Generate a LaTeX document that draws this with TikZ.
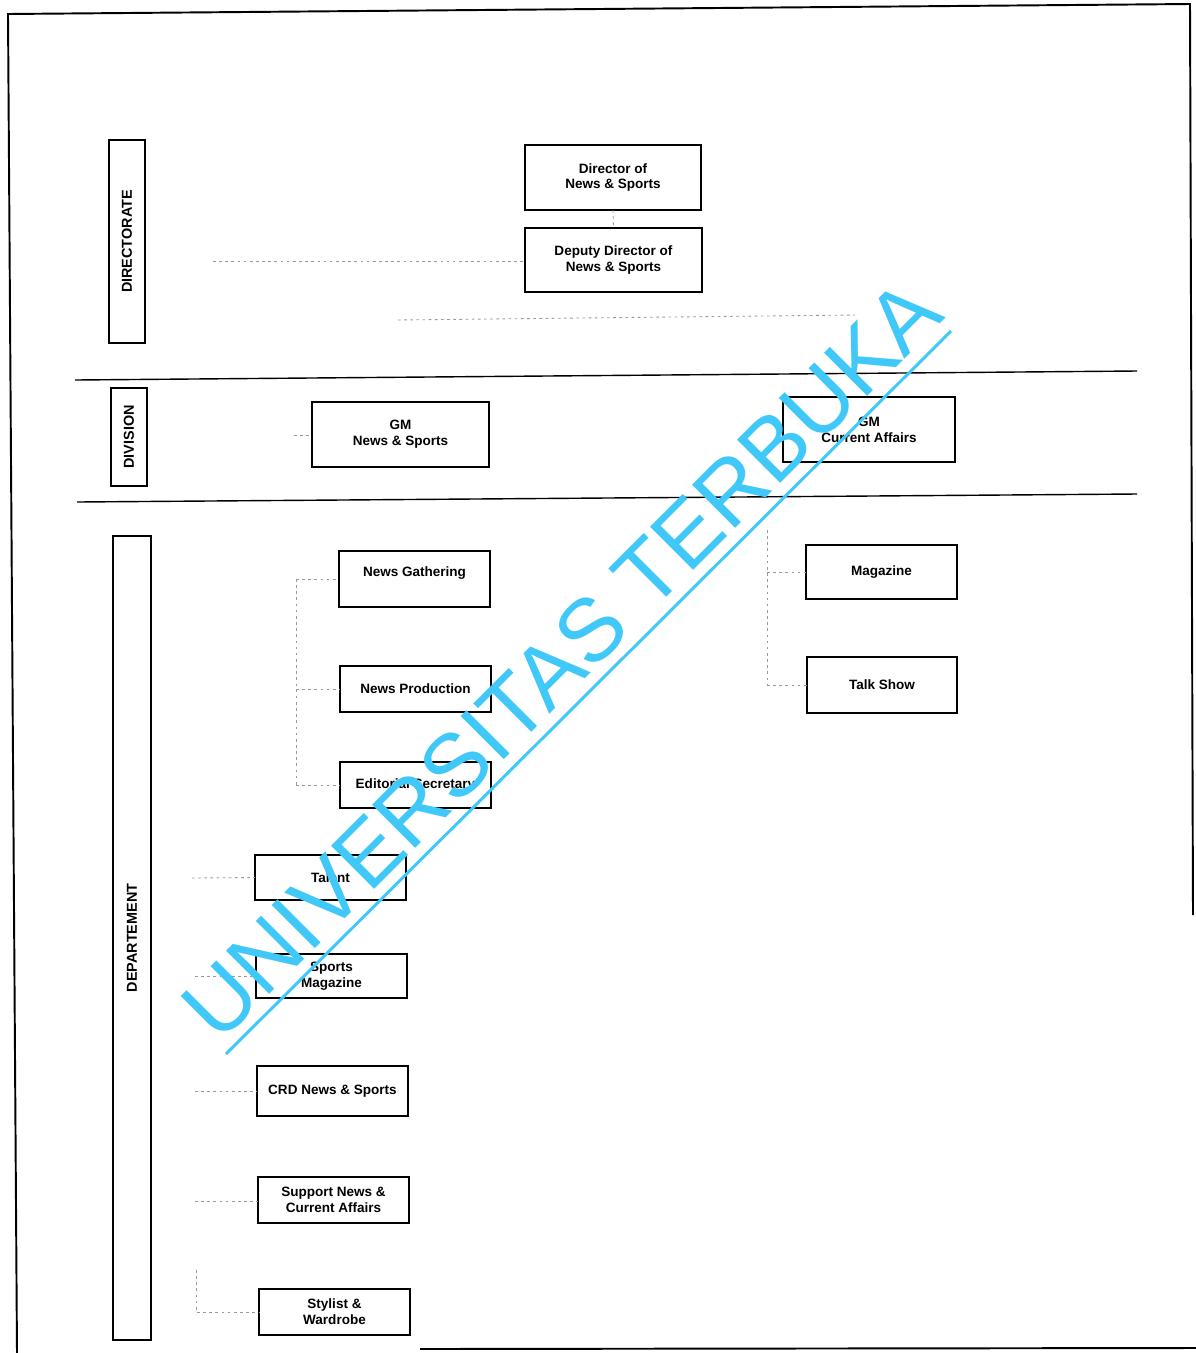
\documentclass[tikz,border=0pt]{standalone}
\usepackage{fontspec}
\usepackage{graphicx}
\setmainfont{Liberation Sans}
\definecolor{wm}{RGB}{64,200,248}
\begin{document}
\begin{tikzpicture}[x=0.02cm,y=-0.02cm,
  bw/.style={minimum width=#1*0.02cm},
  bh/.style={minimum height=#1*0.02cm},
  box/.style={draw, line width=0.9pt, inner sep=0pt, outer sep=0pt, align=center,
    font=\bfseries\fontsize{7.7}{9}\selectfont},
  lbl/.style={draw, line width=0.9pt, inner sep=0pt, outer sep=0pt,
    font=\bfseries\fontsize{8.2}{10}\selectfont},
  conn/.style={draw=black!40, line width=0.5pt, dash pattern=on 1.5pt off 2pt},
  frame/.style={line width=1.1pt},
  rule/.style={line width=0.8pt}]
\useasboundingbox (0,0) rectangle (1196,1353);

% outer frame
\coordinate (f1) at (8,14);
\coordinate (f2) at (1190,4);
\coordinate (f3) at (1193,915);
\coordinate (f4) at (17,1353);
\coordinate (f5) at (420,1349);
\coordinate (f6) at (1196,1348);
\draw[frame] (f3) -- (f2) -- (f1) -- (f4);
\draw[frame] (f5) -- (f6);

% horizontal rules
\coordinate (r1a) at (75,380);
\coordinate (r1b) at (1137,371);
\coordinate (r2a) at (77,502);
\coordinate (r2b) at (1137,494);
\draw[rule] (r1a) -- (r1b);
\draw[rule] (r2a) -- (r2b);

% level labels
\node[lbl, bw=36, bh=203] (ldir) at (127,241.5) {\rotatebox{90}{DIRECTORATE}};
\node[lbl, bw=36, bh=98]  (ldiv) at (129,437) {\rotatebox{90}{DIVISION}};
\node[lbl, bw=38, bh=804] (ldep) at (132,938) {\rotatebox{90}{DEPARTEMENT}};

% boxes
\node[box, bw=176, bh=65] (dir) at (613,177.5) {Director of\\News \& Sports};
\node[box, bw=177, bh=64] (dd)  at (613.5,260) {Deputy Director of\\News \& Sports};
\node[box, bw=177, bh=65] (gmn) at (400.5,434.5) {GM\\News \& Sports};
\node[box, bw=172, bh=65] (gmc) at (869,429.5) {GM\\Current Affairs};
\node[box, bw=151, bh=56] (ng)  at (414.5,579) {News Gathering\\\mbox{}};
\node[box, bw=151, bh=46] (np)  at (415.5,689) {News Production};
\node[box, bw=151, bh=46] (es)  at (415.5,785) {Editorial Secretary};
\node[box, bw=151, bh=54] (mag) at (881.5,572) {Magazine};
\node[box, bw=150, bh=56] (ts)  at (882,685) {Talk Show};
\node[box, bw=151, bh=45] (tal) at (330.5,877.5) {Talent};
\node[box, bw=151, bh=44] (sm)  at (331.5,976) {Sports\\Magazine};
\node[box, bw=151, bh=50] (crd) at (332.5,1091) {CRD News \& Sports};
\node[box, bw=151, bh=46] (sup) at (333.5,1200) {Support News \&\\Current Affairs};
\node[box, bw=151, bh=46] (sty) at (334.5,1312) {Stylist \&\\Wardrobe};

% faint connectors
\coordinate (c1) at (213,261);
\draw[conn] (c1) -- (c1 -| dd.west);
\draw[conn] (dir.south) -- (dd.north);
\coordinate (c2a) at (398,320);
\coordinate (c2b) at (855,315);
\draw[conn] (c2a) -- (c2b);
\coordinate (c3) at (294,435);
\draw[conn] (c3) -- (c3 -| gmn.west);

\coordinate (v1t) at (296,579);
\coordinate (v1b) at (296,785);
\draw[conn] (v1t) -- (v1b);
\draw[conn] (v1t) -- (ng.west);
\draw[conn] (v1t |- np.west) -- (np.west);
\draw[conn] (v1b) -- (es.west);

\coordinate (v2t) at (767,530);
\coordinate (v2b) at (767,685);
\draw[conn] (v2t) -- (v2b);
\draw[conn] (v2t |- mag.west) -- (mag.west);
\draw[conn] (v2b) -- (ts.west);

\coordinate (c4) at (192,878);
\draw[conn] (c4) -- (tal.west);
\coordinate (c5) at (195,976);
\draw[conn] (c5) -- (sm.west);
\coordinate (c6) at (195,1091);
\draw[conn] (c6) -- (crd.west);
\coordinate (c7) at (195,1201);
\draw[conn] (c7) -- (c7 -| sup.west);
\coordinate (c8) at (196,1270);
\coordinate (c8b) at (196,1312);
\draw[conn] (c8) -- (c8b) -- (sty.west);

% watermark
\node[anchor=base west, rotate=45, inner sep=0pt, text=wm,
  font=\fontsize{50.5}{50.5}\selectfont] (wmt) at (219,1045) {UNIVERSITAS TERBUKA};
\coordinate (wl1) at (226,1054);
\coordinate (wl2) at (951,331);
\draw[wm, line width=1.7pt] (wl1) -- (wl2);
\end{tikzpicture}
\end{document}
